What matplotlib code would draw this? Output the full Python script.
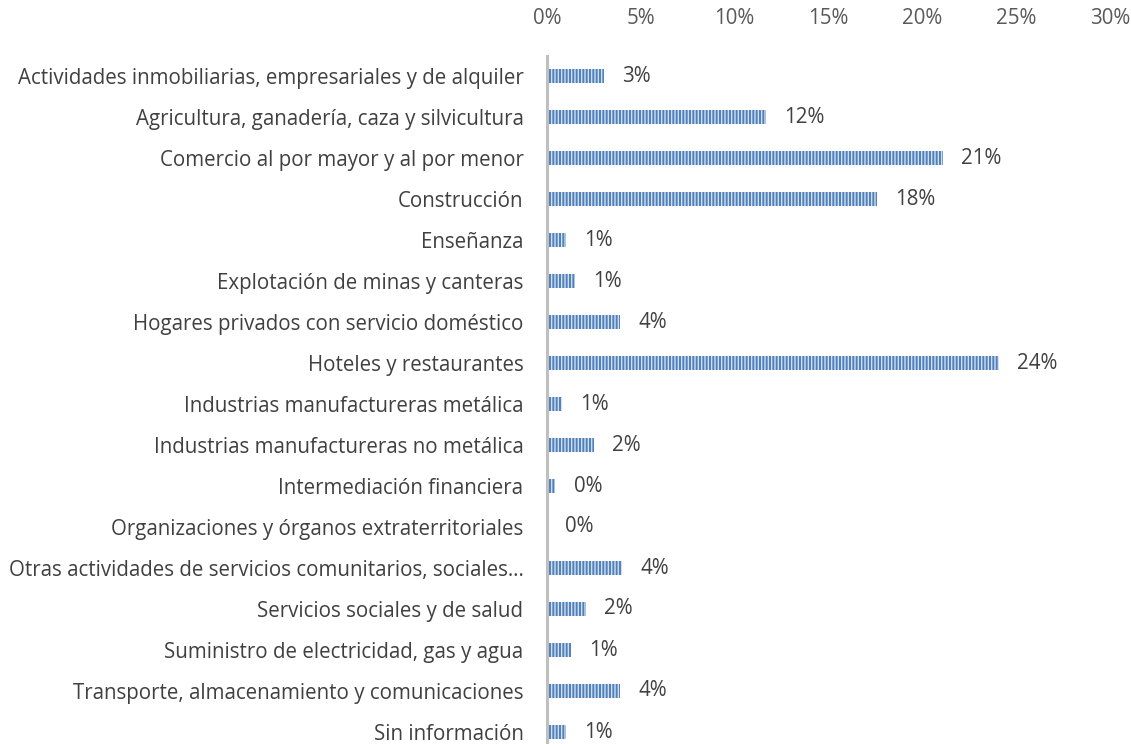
import matplotlib
matplotlib.use("Agg")
import matplotlib.pyplot as plt
from matplotlib.ticker import PercentFormatter

categories = [
    "Actividades inmobiliarias, empresariales y de alquiler",
    "Agricultura, ganadería, caza y silvicultura",
    "Comercio al por mayor y al por menor",
    "Construcción",
    "Enseñanza",
    "Explotación de minas y canteras",
    "Hogares privados con servicio doméstico",
    "Hoteles y restaurantes",
    "Industrias manufactureras metálica",
    "Industrias manufactureras no metálica",
    "Intermediación financiera",
    "Organizaciones y órganos extraterritoriales",
    "Otras actividades de servicios comunitarios, sociales…",
    "Servicios sociales y de salud",
    "Suministro de electricidad, gas y agua",
    "Transporte, almacenamiento y comunicaciones",
    "Sin información",
]
values = [3.05, 11.65, 21.1, 17.6, 1.0, 1.5, 3.9, 24.1, 0.8, 2.5, 0.45, 0.0,
          4.0, 2.1, 1.3, 3.9, 1.0]
labels = ["3%", "12%", "21%", "18%", "1%", "1%", "4%", "24%", "1%", "2%", "0%",
          "0%", "4%", "2%", "1%", "4%", "1%"]
xticks = [0, 5, 10, 15, 20, 25, 30]

plt.rcParams['font.family'] = ['Open Sans', 'DejaVu Sans']
plt.rcParams['hatch.linewidth'] = 1.0

fig = plt.figure(figsize=(11.31, 7.44), dpi=100)
ax = fig.add_axes([547 / 1131, (744 - 752.5) / 744, 563 / 1131, 697 / 744])

y = list(range(len(categories)))
ax.barh(y, values, height=0.32, color="#4F81BD", edgecolor="#D3DFEE",
        linewidth=0, hatch="|||||")
for yi, v, lab in zip(y, values, labels):
    ax.annotate(lab, (v, yi), xytext=(13, 0), textcoords="offset points",
                va="center", ha="left", fontsize=14.8, color="#404040")

ax.set_ylim(len(categories) - 0.5, -0.5)
ax.set_yticks(y)
ax.set_yticklabels(categories, fontsize=14.8, color="#404040")
ax.set_xlim(0, 30)
ax.set_xticks(xticks)
ax.xaxis.set_major_formatter(PercentFormatter(decimals=0))
ax.xaxis.tick_top()
ax.tick_params(axis="x", length=0, pad=19, labelsize=14.8, labelcolor="#595959")
ax.tick_params(axis="y", length=0, pad=17)
for s in ["top", "right", "bottom"]:
    ax.spines[s].set_visible(False)
ax.spines["left"].set_color("#BFBFBF")
ax.spines["left"].set_linewidth(2.2)

fig.savefig("out.png", dpi=100)
